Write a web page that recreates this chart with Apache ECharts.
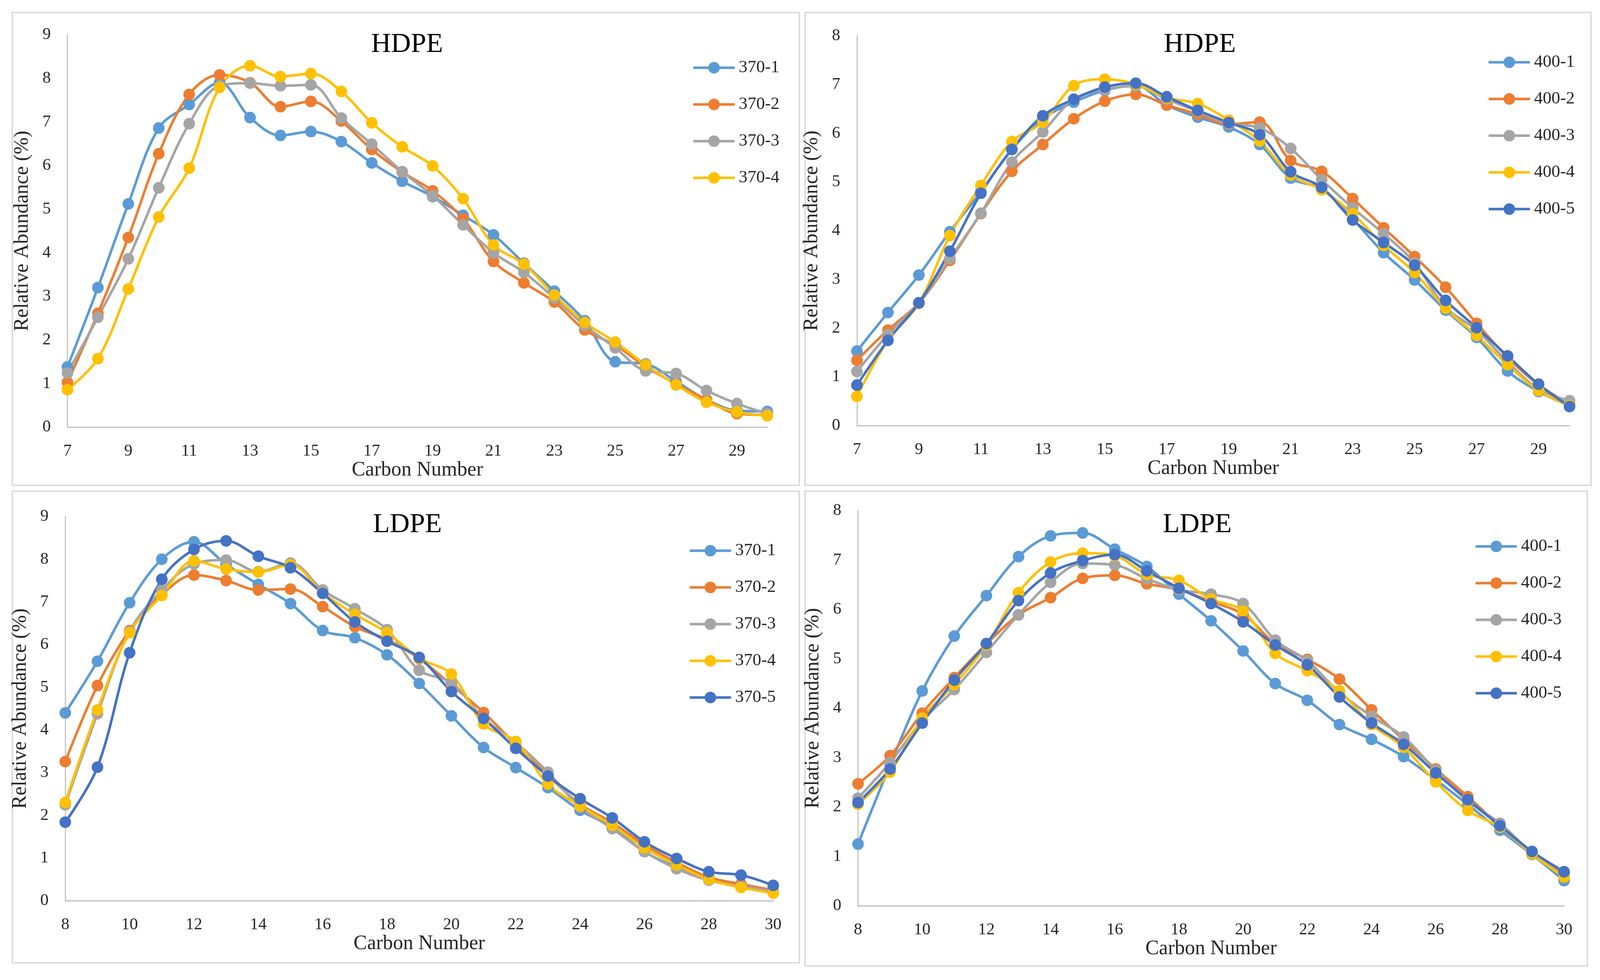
<!DOCTYPE html>
<html>
<head>
<meta charset="utf-8">
<script src="https://cdn.jsdelivr.net/npm/echarts@6/dist/echarts.min.js"></script>
<style>
html,body{margin:0;padding:0;background:#fff;overflow:hidden;}
#chart{width:100vw;height:100vh;}
</style>
</head>
<body>
<div id="chart"></div>
<script>
// ---- data ----
const carbonHDPE = [7,8,9,10,11,12,13,14,15,16,17,18,19,20,21,22,23,24,25,26,27,28,29,30];
const carbonLDPE = [8,9,10,11,12,13,14,15,16,17,18,19,20,21,22,23,24,25,26,27,28,29,30];

const namesP1 = ['370-1','370-2','370-3','370-4'];
const namesP2 = ['400-1','400-2','400-3','400-4','400-5'];
const namesP3 = ['370-1','370-2','370-3','370-4','370-5'];
const namesP4 = ['400-1','400-2','400-3','400-4','400-5'];

const hdpe370_1 = [1.38,3.20,5.12,6.86,7.40,7.90,7.10,6.69,6.78,6.55,6.06,5.64,5.29,4.86,4.41,3.76,3.12,2.44,1.50,1.45,1.05,0.63,0.38,0.36];
const hdpe370_2 = [1.03,2.61,4.35,6.27,7.63,8.08,7.90,7.35,7.47,7.02,6.37,5.85,5.42,4.78,3.80,3.31,2.87,2.23,1.88,1.39,0.99,0.63,0.31,0.28];
const hdpe370_3 = [1.24,2.52,3.86,5.49,6.96,7.83,7.89,7.83,7.85,7.09,6.49,5.86,5.31,4.64,4.00,3.55,2.96,2.33,1.82,1.29,1.23,0.84,0.54,0.31];
const hdpe370_4 = [0.86,1.57,3.17,4.82,5.94,7.79,8.29,8.04,8.11,7.70,6.98,6.43,5.99,5.24,4.18,3.74,3.03,2.40,1.95,1.43,0.97,0.57,0.35,0.26];

const hdpe400_1 = [1.53,2.32,3.09,3.98,4.80,5.67,6.30,6.64,6.88,6.98,6.58,6.33,6.13,5.77,5.08,4.86,4.24,3.55,2.99,2.37,1.81,1.12,0.70,0.41];
const hdpe400_2 = [1.34,1.96,2.52,3.39,4.35,5.22,5.77,6.30,6.66,6.80,6.58,6.39,6.19,6.23,5.44,5.22,4.66,4.06,3.47,2.84,2.10,1.40,0.84,0.44];
const hdpe400_3 = [1.11,1.87,2.52,3.43,4.36,5.41,6.03,6.70,6.90,6.97,6.70,6.45,6.20,6.11,5.69,5.05,4.47,3.94,3.34,2.43,1.96,1.31,0.75,0.51];
const hdpe400_4 = [0.60,1.75,2.51,3.90,4.93,5.83,6.23,6.98,7.11,7.01,6.73,6.61,6.27,5.84,5.14,4.84,4.35,3.70,3.14,2.41,1.85,1.25,0.72,0.41];
const hdpe400_5 = [0.83,1.75,2.52,3.58,4.77,5.67,6.36,6.70,6.95,7.03,6.75,6.47,6.22,5.97,5.21,4.89,4.22,3.76,3.29,2.57,2.01,1.43,0.85,0.39];

const ldpe370_1 = [4.40,5.61,6.98,8.00,8.41,7.88,7.41,6.96,6.33,6.16,5.76,5.09,4.33,3.59,3.12,2.65,2.12,1.72,1.15,0.79,0.54,0.32,0.22];
const ldpe370_2 = [3.26,5.04,6.33,7.17,7.63,7.50,7.28,7.30,6.89,6.42,6.12,5.67,5.06,4.41,3.66,2.94,2.26,1.83,1.31,0.90,0.55,0.39,0.25];
const ldpe370_3 = [2.25,4.38,6.31,7.28,7.89,7.98,7.71,7.91,7.28,6.84,6.35,5.40,5.11,4.27,3.71,3.01,2.19,1.69,1.15,0.75,0.48,0.34,0.22];
const ldpe370_4 = [2.30,4.47,6.28,7.15,7.96,7.77,7.70,7.87,7.21,6.71,6.28,5.68,5.31,4.14,3.73,2.73,2.22,1.77,1.24,0.84,0.50,0.31,0.18];
const ldpe370_5 = [1.84,3.13,5.81,7.53,8.23,8.43,8.07,7.80,7.20,6.53,6.08,5.70,4.90,4.27,3.57,2.92,2.39,1.94,1.38,0.99,0.68,0.60,0.36];

const ldpe400_1 = [1.25,2.85,4.35,5.46,6.28,7.07,7.49,7.55,7.22,6.87,6.31,5.77,5.16,4.50,4.16,3.67,3.37,3.02,2.55,2.05,1.53,1.04,0.51];
const ldpe400_2 = [2.47,3.04,3.90,4.62,5.30,5.89,6.24,6.63,6.69,6.52,6.40,6.16,5.90,5.31,4.99,4.59,3.97,3.36,2.77,2.21,1.62,1.08,0.66];
const ldpe400_3 = [2.18,2.90,3.75,4.38,5.13,5.89,6.55,6.93,6.90,6.62,6.40,6.31,6.12,5.38,4.96,4.32,3.84,3.42,2.74,2.12,1.67,1.07,0.60];
const ldpe400_4 = [2.06,2.71,3.80,4.48,5.28,6.34,6.96,7.14,7.09,6.71,6.59,6.21,5.97,5.11,4.76,4.35,3.67,3.21,2.51,1.93,1.59,1.05,0.58];
const ldpe400_5 = [2.09,2.77,3.70,4.57,5.31,6.18,6.74,6.99,7.11,6.78,6.43,6.12,5.75,5.28,4.88,4.23,3.70,3.27,2.69,2.15,1.62,1.10,0.69];

const titles = ['HDPE','HDPE','LDPE','LDPE'];
const yMax = [9, 8, 9, 8];

// ---- layout (designed for 4412 x 2510, scaled to the real viewport) ----
const W = window.innerWidth || 4412, H = window.innerHeight || 2510;
const sx = W / 4412, sy = H / 2510, s = Math.min(sx, sy);
const X = v => v * sx, Y = v => v * sy, S = v => v * s;

const colors = ['#5B9BD5','#ED7D31','#A5A5A5','#FFC000','#4472C4'];
const FONT = '"Liberation Serif","Times New Roman",serif';
const TXT = '#262626';

const panels = [
  {cats: carbonHDPE, names: namesP1, data: [hdpe370_1,hdpe370_2,hdpe370_3,hdpe370_4]},
  {cats: carbonHDPE, names: namesP2, data: [hdpe400_1,hdpe400_2,hdpe400_3,hdpe400_4,hdpe400_5]},
  {cats: carbonLDPE, names: namesP3, data: [ldpe370_1,ldpe370_2,ldpe370_3,ldpe370_4,ldpe370_5]},
  {cats: carbonLDPE, names: namesP4, data: [ldpe400_1,ldpe400_2,ldpe400_3,ldpe400_4,ldpe400_5]}
];

const gridsRaw = [
  {left:186, right:2296, top:89, bottom:1416},
  {left:2363, right:84, top:92, bottom:1420},
  {left:180, right:2280, top:1323, bottom:203},
  {left:2366, right:99, top:1308, bottom:190}
];
const titlePos = [{x:1117,y:74},{x:3303,y:74},{x:1118,y:1304},{x:3296,y:1304}];
const legendPos = [{x:1903,y:146},{x:4096,y:132},{x:1893,y:1383},{x:4060,y:1372}];
const borders = [
  {x:34,y:32,w:2170,h:1211},
  {x:2220,y:32,w:2167,h:1211},
  {x:34,y:1258,w:2170,h:1208},
  {x:2220,y:1258,w:2157,h:1216}
];

const option = {
  animation: false,
  backgroundColor: '#fff',
  title: titles.map((t,i)=>({
    text: t, left: X(titlePos[i].x), top: Y(titlePos[i].y), textAlign: 'center',
    textStyle: {fontFamily: FONT, fontSize: S(76), fontWeight: 'normal', color: '#000'}
  })),
  legend: panels.map((p,i)=>({
    orient: 'vertical', left: X(legendPos[i].x), top: Y(legendPos[i].y),
    data: p.names, itemWidth: S(114), itemHeight: S(40), itemGap: Y(49),
    lineStyle: {width: S(7)},
    textStyle: {fontFamily: FONT, fontSize: S(48), lineHeight: S(40), color: TXT, padding:[0,0,0,S(6)]},
    selectedMode: false
  })),
  grid: gridsRaw.map(g=>({left: X(g.left), right: X(g.right), top: Y(g.top), bottom: Y(g.bottom)})),
  xAxis: panels.map((p,i)=>({
    type: 'category', gridIndex: i, data: p.cats, boundaryGap: false,
    name: 'Carbon Number', nameLocation: 'middle', nameGap: Y(84),
    nameTextStyle: {fontFamily: FONT, fontSize: S(56), color: TXT},
    axisLine: {lineStyle: {color: '#BFBFBF', width: S(3)}},
    axisTick: {show: false},
    axisLabel: {interval: 1, fontFamily: FONT, fontSize: S(46), color: TXT, margin: Y(40)},
    splitLine: {show: false}
  })),
  yAxis: panels.map((p,i)=>({
    type: 'value', gridIndex: i, min: 0, max: yMax[i], interval: 1,
    name: 'Relative Abundance (%)', nameLocation: 'middle', nameGap: X(96),
    nameTextStyle: {fontFamily: FONT, fontSize: S(56), color: TXT},
    axisLine: {show: true, lineStyle: {color: '#BFBFBF', width: S(3)}},
    axisTick: {show: false},
    axisLabel: {fontFamily: FONT, fontSize: S(46), color: TXT, margin: X(46)},
    splitLine: {show: false}
  })),
  series: [],
  graphic: borders.map(b=>({
    type: 'rect', shape: {x:X(b.x), y:Y(b.y), width:X(b.w), height:Y(b.h)},
    style: {fill: 'none', stroke: '#D9D9D9', lineWidth: S(4)}, silent: true, z: -1
  }))
};

panels.forEach((p,i)=>{
  p.data.forEach((arr,k)=>{
    option.series.push({
      type: 'line', name: p.names[k], xAxisIndex: i, yAxisIndex: i,
      data: arr, smooth: 0.35, symbol: 'circle', symbolSize: S(32),
      showAllSymbol: true,
      lineStyle: {width: S(7), color: colors[k]},
      itemStyle: {color: colors[k]},
      emphasis: {disabled: true}
    });
  });
});

const chart = echarts.init(document.getElementById('chart'));
chart.setOption(option);
</script>
</body>
</html>
